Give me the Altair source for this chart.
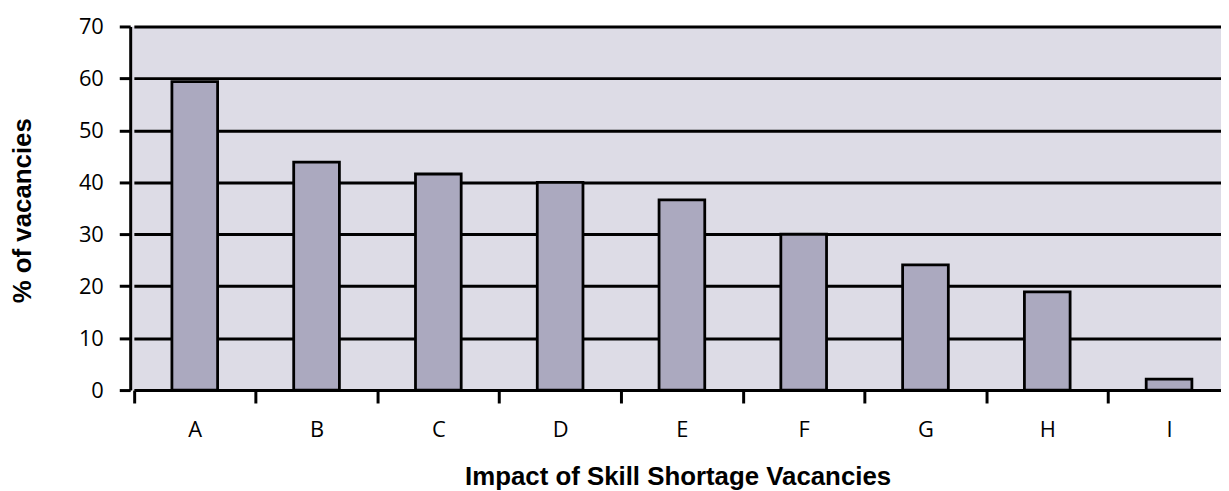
import altair as alt
import pandas as pd

categories = ["A", "B", "C", "D", "E", "F", "G", "H", "I"]
values = [59.4, 43.9, 41.6, 40.0, 36.6, 30.0, 24.1, 18.9, 2.1]
y_ticks = [0, 10, 20, 30, 40, 50, 60, 70]

df = pd.DataFrame({"cat": categories, "val": values})

bars = alt.Chart(df).mark_bar(
    size=46, color="#ABA9BF", stroke="black", strokeWidth=2.8
).encode(
    x=alt.X(
        "cat:N",
        sort=categories,
        scale=alt.Scale(range=[3.7, 1107], paddingInner=0, paddingOuter=0),
        axis=alt.Axis(
            title="Impact of Skill Shortage Vacancies",
            titleFont="Liberation Sans",
            titleFontSize=26,
            titleFontWeight="bold",
            titleColor="black",
            titleX=551,
            titleY=87,
            titleBaseline="middle",
            titleAlign="center",
            labelAngle=0,
            labelFont="Open Sans",
            labelFontWeight="normal",
            labelFontSize=22,
            labelColor="black",
            labelPadding=17,
            tickBand="extent",
            tickColor="black",
            tickWidth=3,
            tickSize=13,
            domain=False,
            grid=False,
        ),
    ),
    y=alt.Y(
        "val:Q",
        scale=alt.Scale(domain=[0, 70], nice=False),
        axis=alt.Axis(
            values=y_ticks,
            title="% of vacancies",
            titleFont="Liberation Sans",
            titleFontSize=26,
            titleFontWeight="bold",
            titleColor="black",
            titleX=-108,
            titleY=185,
            titleAngle=270,
            titleBaseline="middle",
            titleAlign="center",
            labelFont="Open Sans",
            labelFontWeight="normal",
            labelFontSize=22,
            labelColor="black",
            labelPadding=16,
            tickColor="black",
            tickWidth=3,
            tickSize=11,
            domainColor="black",
            domainWidth=3,
            grid=True,
            gridColor="black",
            gridWidth=3,
            gridOpacity=1,
        ),
    ),
)

chart = bars.properties(
    width=1098,
    height=366,
    background="white",
    autosize=alt.AutoSizeParams(type="none"),
    padding={"left": 123, "top": 17, "right": 0, "bottom": 100},
).configure_view(
    fill="#DDDCE6", stroke=None
)

chart.save("out.html", embed_options={"renderer": "svg", "actions": False})
